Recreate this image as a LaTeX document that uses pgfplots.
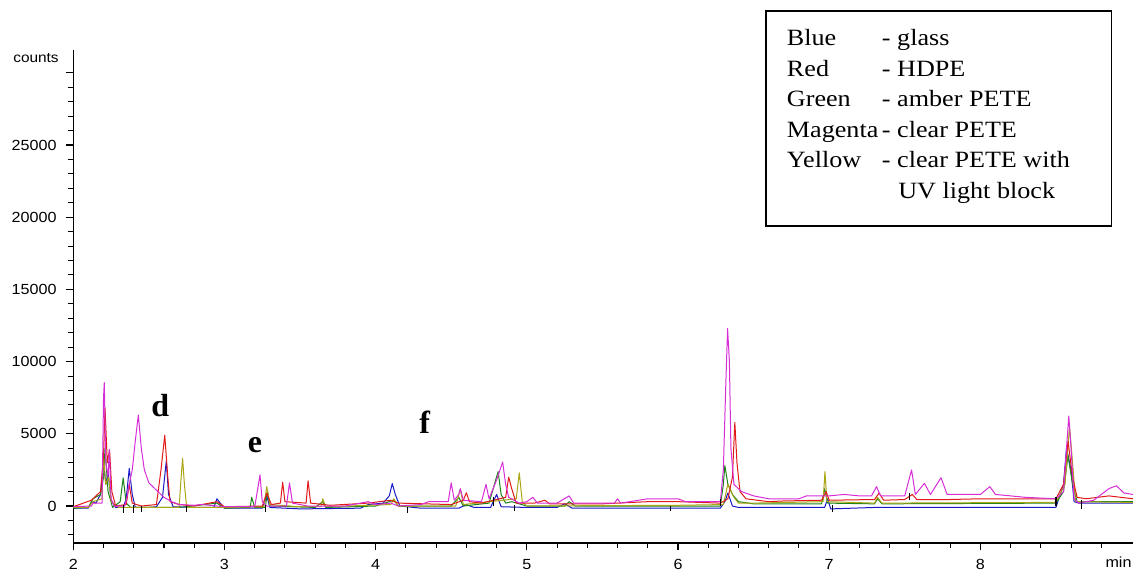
\documentclass[border=0pt]{standalone}
\usepackage{pgfplots}
\pgfplotsset{compat=1.18}
\usepackage{fontspec}
\setmainfont{Liberation Serif}
\newfontfamily\tickfont[FakeStretch=1.1]{Liberation Sans}
\newfontfamily\legfont[FakeStretch=1.12]{Liberation Serif}

\definecolor{cblue}{RGB}{25,25,200}
\definecolor{cred}{RGB}{225,25,25}
\definecolor{cgreen}{RGB}{25,130,25}
\definecolor{cmag}{RGB}{215,45,215}
\definecolor{cyel}{RGB}{170,165,20}

\begin{document}
\begin{tikzpicture}
\path[use as bounding box] (0pt,0pt) rectangle (849.75pt,-428.25pt);
\begin{axis}[
  at={(54.975pt,-407.25pt)}, anchor=south west,
  scale only axis, width=794.8pt, height=369.75pt,
  xmin=2, xmax=9.01, ymin=-2562, ymax=31578,
  axis lines=left, axis line style={-, line width=0.9pt},
  tick align=outside, scaled ticks=false,
  xtick={2,3,4,5,6,7,8}, xticklabels={2,3,4,5,6,7,8},
  minor xtick={2.2,2.4,2.6,2.8,3.2,3.4,3.6,3.8,4.2,4.4,4.6,4.8,5.2,5.4,5.6,5.8,6.2,6.4,6.6,6.8,7.2,7.4,7.6,7.8,8.2,8.4,8.6,8.8},
  ytick={0,5000,10000,15000,20000,25000,30000},
  yticklabels={0,5000,10000,15000,20000,25000,{}},
  minor ytick={-2000,-1000,1000,2000,3000,4000,6000,7000,8000,9000,11000,12000,13000,14000,16000,17000,18000,19000,21000,22000,23000,24000,26000,27000,28000,29000},
  major tick length=5.5pt, minor tick length=4pt,
  tick style={black, line width=0.8pt},
  tick label style={font=\tickfont\fontsize{11}{13}\selectfont},
  yticklabel style={xshift=-3.5pt},
  xticklabel style={yshift=-3pt},
  /pgf/number format/assume math mode=true,
  every axis plot/.append style={line width=0.75pt, no marks, line join=round},
]
% blue - glass
\addplot[cblue] coordinates {
(2.00,-150) (2.10,-150) (2.12,300) (2.15,200) (2.18,800) (2.20,3000) (2.215,1500) (2.23,2300) (2.25,400) (2.28,-100)
(2.33,-100) (2.35,500) (2.37,2600) (2.39,800) (2.41,-100) (2.50,-100) (2.55,-50) (2.59,600) (2.615,3100) (2.63,800)
(2.66,-50) (2.80,-100) (2.93,-100) (2.95,500) (2.98,100) (3.00,-150) (3.25,-150) (3.28,700) (3.30,-100) (3.50,-200)
(3.90,-150) (3.95,100) (4.05,200) (4.09,700) (4.11,1550) (4.13,800) (4.16,0) (4.30,-150) (4.55,-150) (4.60,100)
(4.65,-100) (4.76,-100) (4.80,800) (4.83,-50) (5.00,-100) (5.20,-100) (5.25,150) (5.30,-150) (6.28,-150) (6.31,300)
(6.33,900) (6.36,0) (6.40,-100) (6.97,-100) (6.99,500) (7.01,-200) (7.30,-100) (8.50,-100) (8.55,1500) (8.57,4000)
(8.60,2500) (8.62,300) (8.65,200) (9.01,200)
};
% green - amber PETE
\addplot[cgreen] coordinates {
(2.00,-150) (2.10,-100) (2.13,500) (2.18,800) (2.20,2000) (2.21,4000) (2.23,1000) (2.26,-100) (2.31,300) (2.33,1950)
(2.35,200) (2.38,-100) (2.70,-100) (2.95,200) (3.00,-150) (3.17,-100) (3.18,600) (3.20,-100) (3.27,-100) (3.285,1000)
(3.30,0) (3.60,-100) (3.65,300) (3.67,-100) (4.00,0) (4.12,400) (4.15,0) (4.50,0) (4.55,600) (4.58,0)
(4.75,200) (4.81,2380) (4.83,800) (4.86,200) (4.90,300) (5.00,0) (5.25,0) (5.28,300) (5.32,0) (6.00,0)
(6.28,0) (6.30,1500) (6.31,2800) (6.33,1500) (6.36,800) (6.40,300) (6.50,150) (6.95,150) (6.97,1200) (6.99,200)
(7.30,150) (7.32,500) (7.35,150) (8.50,200) (8.55,1000) (8.58,3500) (8.61,1500) (8.64,300) (9.01,300)
};
% yellow - clear PETE with UV light block
\addplot[cyel] coordinates {
(2.00,-100) (2.10,-100) (2.13,300) (2.19,500) (2.20,3500) (2.215,1500) (2.235,2000) (2.25,300) (2.30,-100) (2.70,-100)
(2.71,1500) (2.723,3300) (2.735,1500) (2.75,-100) (3.00,-100) (3.26,-50) (3.28,1340) (3.30,100) (3.50,-50) (3.64,-50)
(3.65,500) (3.67,-50) (4.10,100) (4.12,500) (4.15,0) (4.53,0) (4.56,1180) (4.58,100) (4.93,500) (4.95,2300)
(4.97,300) (5.00,0) (6.00,50) (6.30,100) (6.33,1500) (6.37,600) (6.40,200) (6.50,200) (6.96,300) (6.972,2380)
(6.985,300) (7.30,200) (7.32,600) (7.35,200) (8.50,250) (8.56,1500) (8.59,5500) (8.61,3000) (8.63,300) (9.01,250)
};
% red - HDPE
\addplot[cred] coordinates {
(2.00,-50) (2.12,400) (2.18,1000) (2.20,3500) (2.21,6800) (2.225,3000) (2.24,3900) (2.255,1000) (2.28,0) (2.35,100)
(2.37,1500) (2.39,200) (2.45,0) (2.55,100) (2.58,2500) (2.605,4900) (2.625,2000) (2.64,300) (2.70,100) (2.80,0)
(2.95,300) (3.00,-50) (3.25,0) (3.28,900) (3.31,100) (3.37,200) (3.385,1650) (3.40,300) (3.54,200) (3.553,1750)
(3.57,200) (3.70,50) (3.95,200) (4.10,400) (4.15,200) (4.50,100) (4.58,400) (4.60,920) (4.62,300) (4.70,200)
(4.86,600) (4.88,2000) (4.90,1200) (4.93,200) (5.05,200) (5.12,400) (5.15,150) (5.50,150) (5.80,300) (6.00,300)
(6.28,200) (6.33,500) (6.36,2000) (6.376,5800) (6.39,3000) (6.41,1000) (6.45,500) (6.60,300) (6.70,350) (6.95,400)
(6.98,1000) (7.00,400) (7.30,450) (7.33,900) (7.36,400) (7.50,450) (7.55,800) (7.58,450) (7.80,450) (8.00,500)
(8.50,500) (8.55,1500) (8.58,4500) (8.61,2000) (8.64,600) (8.70,500) (8.85,700) (9.01,500)
};
% magenta - clear PETE
\addplot[cmag] coordinates {
(2.00,-50) (2.12,0) (2.13,200) (2.19,200) (2.20,7500) (2.205,8540) (2.215,3000) (2.23,2000) (2.238,3900) (2.25,500)
(2.27,0) (2.34,0) (2.355,600) (2.37,1500) (2.39,2500) (2.41,4500) (2.43,6300) (2.45,4000) (2.47,2500) (2.50,1600)
(2.55,1100) (2.60,600) (2.65,300) (2.70,100) (2.80,50) (2.85,100) (2.90,50) (3.00,-50) (3.20,-50) (3.225,1500)
(3.235,2150) (3.25,300) (3.28,0) (3.41,0) (3.43,1600) (3.45,200) (3.55,0) (3.80,0) (3.90,200) (3.95,300)
(4.00,100) (4.10,200) (4.15,0) (4.30,100) (4.35,300) (4.48,300) (4.50,1600) (4.52,400) (4.55,800) (4.56,1200)
(4.58,400) (4.70,300) (4.73,1500) (4.75,500) (4.80,1800) (4.84,3050) (4.86,1500) (4.88,600) (4.95,200) (5.00,300)
(5.04,600) (5.07,200) (5.20,200) (5.28,700) (5.31,200) (5.58,200) (5.60,500) (5.62,200) (5.80,500) (6.00,500)
(6.05,300) (6.28,300) (6.30,2500) (6.315,8000) (6.328,12300) (6.34,10000) (6.35,4000) (6.37,1500) (6.42,1000) (6.50,700)
(6.60,500) (6.80,500) (6.85,700) (7.00,700) (7.10,800) (7.20,700) (7.28,700) (7.313,1340) (7.34,700) (7.50,700)
(7.545,2500) (7.57,800) (7.63,1570) (7.67,800) (7.74,1960) (7.78,800) (8.00,800) (8.063,1340) (8.10,800) (8.30,600)
(8.50,500) (8.55,1000) (8.57,4000) (8.585,6230) (8.60,4000) (8.62,500) (8.65,200) (8.75,400) (8.85,1200) (8.90,1400)
(8.95,900) (9.01,800)
};
% integration marks
\addplot[black, line width=1pt, unbounded coords=jump] coordinates {
(2.33,-450) (2.33,50) (2.34,nan) (2.40,-450) (2.40,50) (2.41,nan) (2.45,-400) (2.45,0) (2.46,nan)
(2.75,-400) (2.75,0) (2.76,nan) (3.27,-400) (3.27,50) (3.28,nan) (4.21,-450) (4.21,-100) (4.22,nan)
(4.78,0) (4.78,600) (4.79,nan) (4.92,-350) (4.92,100) (4.93,nan) (5.95,-350) (5.95,0) (5.96,nan)
(6.28,0) (6.28,500) (6.29,nan) (7.02,-400) (7.02,100) (7.03,nan) (8.50,0) (8.50,600) (8.51,nan)
(8.67,-200) (8.67,400) (8.68,nan) (7.53,400) (7.53,900) (7.54,nan)
};
\end{axis}
\begin{scope}[x=0.75pt,y=-0.75pt]
\node[font=\tickfont\fontsize{10.5}{12}\selectfont] at (36,58) {counts};
\node[font=\tickfont\fontsize{11}{13}\selectfont] at (1118.5,562) {min};
\draw[line width=0.9pt] (766,11) rectangle (1111.5,226);
\begin{scope}[every node/.style={anchor=base west, inner sep=0pt, font=\legfont\fontsize{17.5}{19}\selectfont}]
\node at (786.7,45.7) {Blue};     \node at (881.7,45.7) {- glass};
\node at (786.7,76.2) {Red};      \node at (881.7,76.2) {- HDPE};
\node at (786.7,106.7) {Green};   \node at (881.7,106.7) {- amber PETE};
\node at (786.7,137.2) {Magenta}; \node at (881.7,137.2) {- clear PETE};
\node at (786.7,167.7) {Yellow};  \node at (881.7,167.7) {- clear PETE with};
\node at (898,198.2) {UV light block};
\end{scope}
\begin{scope}[every node/.style={anchor=base west, inner sep=0pt, font=\fontsize{24}{26}\selectfont\bfseries}]
\node at (151,416.7) {d};
\node at (247.5,452.7) {e};
\node at (419,433.3) {f};
\end{scope}
\end{scope}
\end{tikzpicture}
\end{document}
